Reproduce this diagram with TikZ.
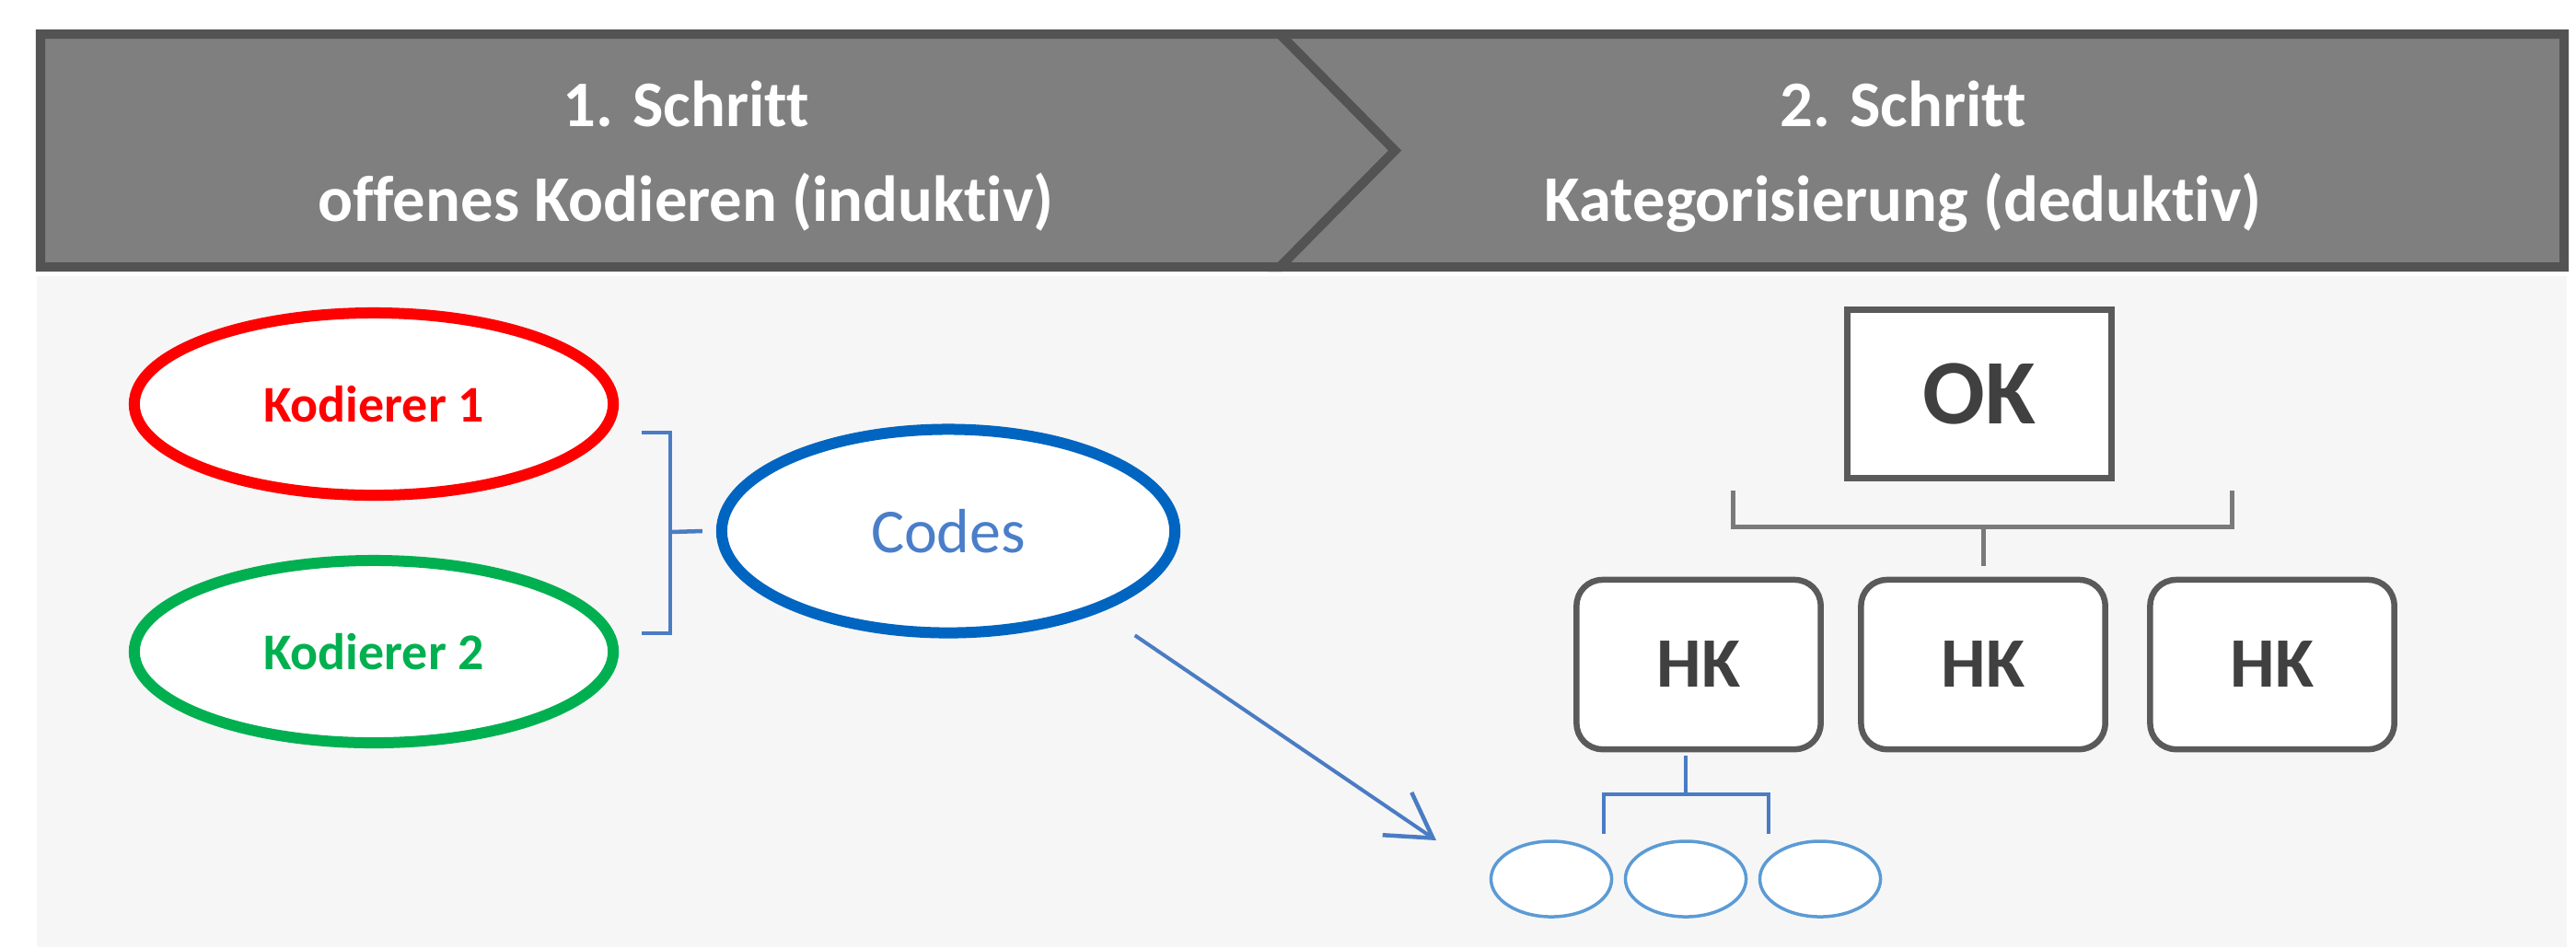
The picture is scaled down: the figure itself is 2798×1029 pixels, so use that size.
\documentclass[tikz,border=0pt]{standalone}
\usepackage{fontspec}
\setmainfont{Carlito}[Ligatures=NoCommon]
\usetikzlibrary{arrows.meta,shapes.geometric}

\definecolor{hdrfill}{HTML}{7F7F7F}
\definecolor{hdrline}{HTML}{535353}
\definecolor{bodybg}{HTML}{F6F6F6}
\definecolor{kred}{HTML}{FF0000}
\definecolor{kgreen}{HTML}{00B050}
\definecolor{kblue}{HTML}{0065C0}
\definecolor{codetext}{HTML}{4A7EC9}
\definecolor{brblue}{HTML}{4A7CC4}
\definecolor{smallblue}{HTML}{5B9BD5}
\definecolor{boxline}{HTML}{5A5A5A}
\definecolor{boxtext}{HTML}{404040}
\definecolor{brgray}{HTML}{7A7A7A}

\tikzset{
  hdrstep/.style={draw=hdrline, fill=hdrfill, line width=0.1cm, line join=miter},
  hdrtext/.style={text=white, anchor=base, inner sep=0,
    font=\fontsize{20.1}{24}\selectfont\bfseries},
  coder/.style={ellipse, draw, fill=white, line width=0.12cm, inner sep=0,
    minimum width=5.2cm, minimum height=1.98cm,
    font=\fontsize{15.9}{19}\selectfont\bfseries},
  codes/.style={ellipse, draw=kblue, fill=white, line width=0.12cm, inner sep=0,
    minimum width=4.92cm, minimum height=2.21cm, text=codetext,
    font=\fontsize{19.3}{23}\selectfont},
  topcat/.style={draw=boxline, fill=white, line width=0.07cm, inner sep=0,
    minimum width=2.86cm, minimum height=1.83cm, text=boxtext,
    font=\fontsize{28.5}{34}\selectfont\bfseries},
  maincat/.style={draw=boxline, fill=white, line width=0.065cm, inner sep=0,
    rounded corners=0.28cm, minimum width=2.65cm, minimum height=1.84cm,
    text=boxtext, font=\fontsize{21.9}{26}\selectfont\bfseries},
  subcode/.style={ellipse, draw=smallblue, fill=white, line width=0.035cm,
    inner sep=0, minimum width=1.31cm, minimum height=0.82cm},
  bluebracket/.style={draw=brblue, line width=0.045cm},
  graybracket/.style={draw=brgray, line width=0.05cm},
  arrowline/.style={draw=brblue, line width=0.04cm,
    -{Straight Barb[length=0.47cm, width=0.56cm, line width=0.045cm]}}
}

\begin{document}
\begin{tikzpicture}[x=0.01cm, y=-0.01cm]
\useasboundingbox (0,0) rectangle (2798,1029);
\fill[white] (0,0) rectangle (2798,1029);
\fill[bodybg] (40,300) rectangle (2788,1029);

% process header: two chevron steps
\path[hdrstep] (1390,37) -- (2785,37) -- (2785,290) -- (1390,290) -- (1515,163.5) -- cycle;
\path[hdrstep] (44,37) -- (1390,37) -- (1515,163.5) -- (1390,290) -- (44,290) -- cycle;

\node[hdrtext] (s1a) at (745,137) {1. Schritt};
\node[hdrtext] (s1b) at (745,240) {offenes Kodieren (induktiv)};
\node[hdrtext] (s2a) at (2067,137) {2. Schritt};
\node[hdrtext] (s2b) at (2067,240) {Kategorisierung (deduktiv)};

% step 1: two coders produce codes
\node[coder, draw=kred, text=kred] (k1) at (406,439) {Kodierer 1};
\node[coder, draw=kgreen, text=kgreen] (k2) at (406,708) {Kodierer 2};
\node[codes] (codes) at (1030,577) {Codes};

\coordinate (lbtop) at (697,470);
\coordinate (lbbot) at (697,688);
\path[bluebracket] (lbtop) -- (728,470) -- (728,688) -- (lbbot);
\path[bluebracket] (728,578) -- ([xshift=-0.15cm]codes.west);

% step 2: category hierarchy
\node[topcat] (ok) at (2150,428) {OK};
\node[maincat] (hk1) at (1845,722) {HK};
\node[maincat] (hk2) at (2154,722) {HK};
\node[maincat] (hk3) at (2468,722) {HK};

\path[graybracket] (1882,533) -- (1882,572) -- (2424,572) -- (2424,533);
\path[graybracket] (2154,572) -- ([yshift=0.12cm]hk2.north);

\node[subcode] (c1) at (1685,955) {};
\node[subcode] (c2) at (1831,955) {};
\node[subcode] (c3) at (1977,955) {};

\path[bluebracket, line width=0.035cm] ([yshift=-0.04cm]c2 |- hk1.south) -- (1831,863);
\path[bluebracket, line width=0.035cm] (1742,906) -- (1742,863) -- (1921,863) -- (1921,906);

% codes are assigned to the categories
\coordinate (arrtip) at (1560,913);
\draw[arrowline, shorten <=0.45cm] (codes.-28) -- (arrtip);
\end{tikzpicture}
\end{document}
